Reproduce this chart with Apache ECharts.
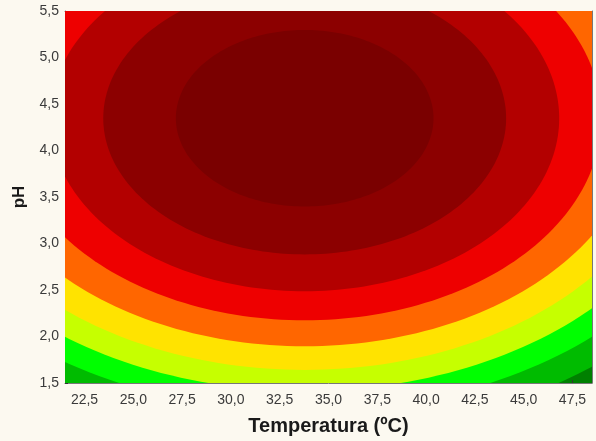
<!DOCTYPE html>
<html>
<head>
<meta charset="utf-8">
<script src="https://cdn.jsdelivr.net/npm/echarts@6/dist/echarts.min.js"></script>
<style>
  html, body { margin: 0; padding: 0; background: #fcf9f0; }
  #chart { width: 596px; height: 441px; }
</style>
</head>
<body>
<div id="chart"></div>
<script>
// Axis ranges and tick labels
const tempRange = [21.5, 48.5];
const phRange = [1.5, 5.5];
const tempTicks = [22.5, 25, 27.5, 30, 32.5, 35, 37.5, 40, 42.5, 45, 47.5];
const phTicks = [1.5, 2, 2.5, 3, 3.5, 4, 4.5, 5, 5.5];
// coded-level ticks on the frame (top / right)
const tempCodedTicks = [26, 30.5, 35, 39.5, 44];
const phCodedTicks = [2.1667, 2.8333, 3.5, 4.1667, 4.8333];

// Optimum of the response surface (Temperatura, pH)
const surfaceCenter = [33.78, 4.347];

// Contour boundaries, from the outermost to the innermost level:
// half-width in ºC and half-height in pH of each iso-line
const tempHalfWidth = [23.8, 22.08, 20.53, 18.94, 17.16, 15.2, 13.04, 10.32, 6.6];
const phHalfHeight  = [3.40, 3.154, 2.933, 2.706, 2.452, 2.173, 1.86, 1.464, 0.949];

// Fill colours, lowest response band first
const bandColors = [
  '#008000', '#00bb00', '#00ff00', '#c6ff00', '#ffe300',
  '#ff6600', '#ee0000', '#b30000', '#8c0000', '#7a0000'
];

const fmt = v => (Math.round(v * 10) / 10).toFixed(1).replace('.', ',');
const fontFamily = '"Liberation Sans", Arial, sans-serif';
const frameColor = '#777';

const chart = echarts.init(document.getElementById('chart'), null, { renderer: 'canvas' });

const contourData = tempHalfWidth.map((w, i) => [w, phHalfHeight[i]]);

chart.setOption({
  backgroundColor: '#fcf9f0',
  animation: false,
  grid: {
    left: 65, right: 4, top: 11, bottom: 57,
    show: true,
    backgroundColor: bandColors[0],
    borderWidth: 0
  },
  xAxis: [
    {
      type: 'value', min: tempRange[0], max: tempRange[1], position: 'bottom',
      name: 'Temperatura (ºC)', nameLocation: 'middle', nameGap: 33,
      nameTextStyle: { fontFamily, fontWeight: 'bold', fontSize: 20, color: '#1a1a1a' },
      axisLine: { show: true, onZero: false, lineStyle: { color: frameColor, width: 1 } },
      axisTick: { show: true, inside: true, length: 3, lineStyle: { color: '#333' }, customValues: tempTicks },
      axisLabel: { fontFamily, fontSize: 14, color: '#3a3a3a', margin: 10, formatter: fmt, customValues: tempTicks },
      splitLine: { show: false }
    },
    {
      type: 'value', min: tempRange[0], max: tempRange[1], position: 'top',
      axisLine: { show: true, onZero: false, lineStyle: { color: frameColor, width: 1 } },
      axisTick: { show: true, inside: true, length: 3, lineStyle: { color: '#333' }, customValues: tempCodedTicks },
      axisLabel: { show: false },
      splitLine: { show: false }
    }
  ],
  yAxis: [
    {
      type: 'value', min: phRange[0], max: phRange[1], position: 'left',
      name: 'pH', nameLocation: 'middle', nameGap: 37,
      nameTextStyle: { fontFamily, fontWeight: 'bold', fontSize: 17, color: '#1a1a1a' },
      axisLine: { show: true, onZero: false, lineStyle: { color: frameColor, width: 1 } },
      axisTick: { show: true, inside: true, length: 3, lineStyle: { color: '#333' }, customValues: phTicks },
      axisLabel: { fontFamily, fontSize: 14, color: '#3a3a3a', margin: 6, formatter: fmt, customValues: phTicks },
      splitLine: { show: false }
    },
    {
      type: 'value', min: phRange[0], max: phRange[1], position: 'right',
      axisLine: { show: true, onZero: false, lineStyle: { color: frameColor, width: 1 } },
      axisTick: { show: true, inside: true, length: 3, lineStyle: { color: '#333' }, customValues: phCodedTicks },
      axisLabel: { show: false },
      splitLine: { show: false }
    }
  ],
  series: [{
    type: 'custom',
    xAxisIndex: 0,
    yAxisIndex: 0,
    clip: true,
    silent: true,
    data: contourData,
    renderItem: (params, api) => {
      const w = api.value(0);
      const h = api.value(1);
      const steps = 240;
      const points = [];
      for (let k = 0; k < steps; k++) {
        const t = 2 * Math.PI * k / steps;
        points.push(api.coord([surfaceCenter[0] + w * Math.cos(t), surfaceCenter[1] + h * Math.sin(t)]));
      }
      return {
        type: 'polygon',
        shape: { points },
        style: { fill: bandColors[params.dataIndex + 1], stroke: null }
      };
    }
  }]
});
</script>
</body>
</html>
